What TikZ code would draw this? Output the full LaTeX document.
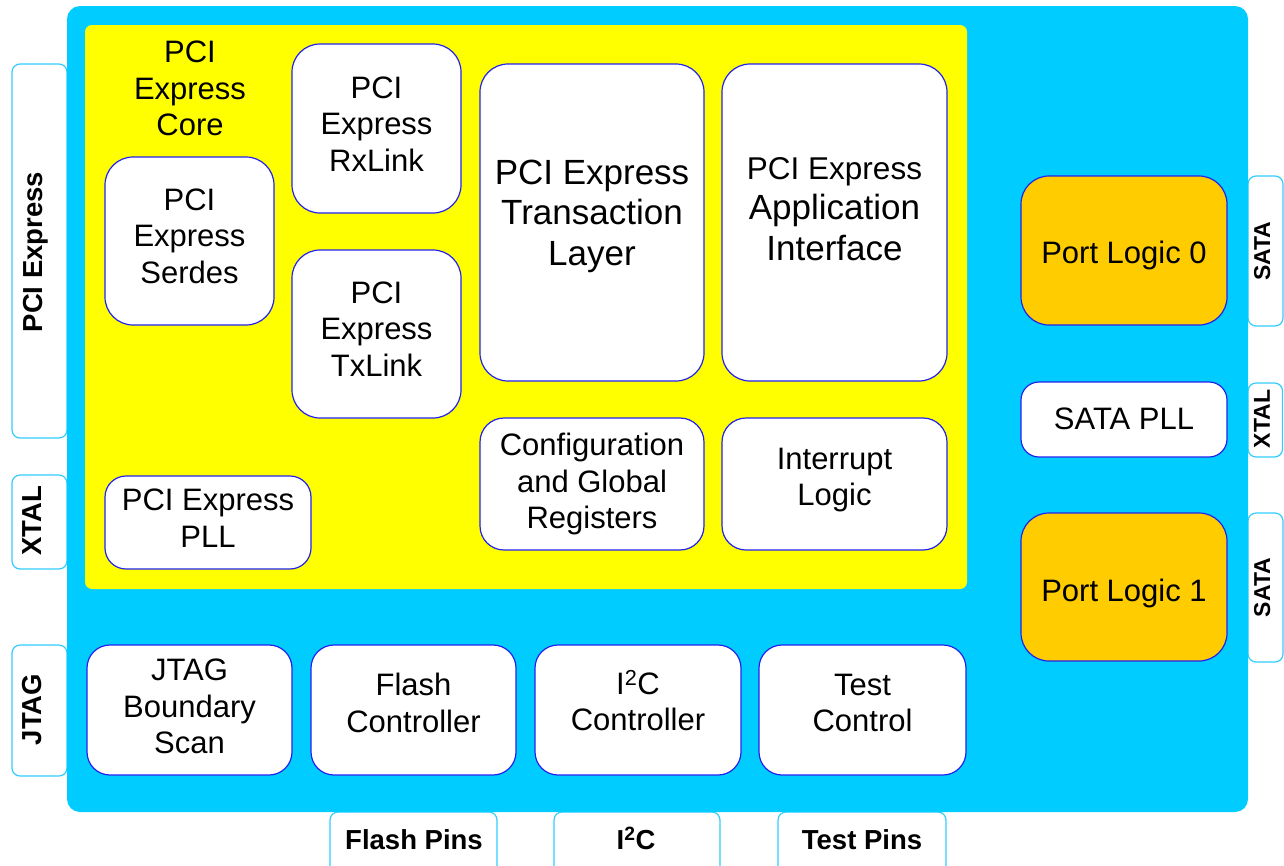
\documentclass[tikz,border=0pt]{standalone}
\usepackage{fontspec}
\setmainfont{Liberation Sans}
\definecolor{cyanbg}{HTML}{00CCFF}
\definecolor{ylw}{HTML}{FFFF00}
\definecolor{orng}{HTML}{FFCC00}
\definecolor{blkline}{HTML}{2222EE}
\definecolor{pinline}{HTML}{33CCFF}
\tikzset{
  blk/.style={draw=blkline, line width=1.2pt, fill=white, rounded corners=#1, inner sep=0pt, outer sep=0pt},
  blk/.default=28pt,
  pinbox/.style={draw=pinline, line width=1.2pt, fill=white, rounded corners=8pt},
  txt/.style={align=center, inner sep=0pt, text depth=0pt, font=\fontsize{31}{36.5}\selectfont},
  pintxt/.style={inner sep=0pt, text depth=0pt, font=\bfseries\fontsize{27.5}{32}\selectfont},
  rpintxt/.style={inner sep=0pt, text depth=0pt, font=\bfseries\fontsize{23}{27}\selectfont},
}
\begin{document}
\begin{tikzpicture}[x=1pt,y=-1pt]
\useasboundingbox (0,0) rectangle (1284,865);
% pins (beside the chip)
\path[pinbox] (12,64) rectangle (67,438);
\path[pinbox] (12,475) rectangle (67,569);
\path[pinbox] (12,645) rectangle (67,776);
\path[pinbox] (1248,176) rectangle (1283,326);
\path[pinbox] (1248,383) rectangle (1282.5,457);
\path[pinbox] (1248,513) rectangle (1283,662);
\path[pinbox] (330,812) rectangle (497,885);
\path[pinbox] (554,812) rectangle (720,885);
\path[pinbox] (778,812) rectangle (946,885);
% chip and core
\path[fill=cyanbg, rounded corners=13pt] (67,6) rectangle (1248,812);
\path[fill=ylw, rounded corners=7pt] (85,25) rectangle (967,589);
% blocks
\node[blk, minimum width=169pt, minimum height=168pt] (serdes) at (189.5,241) {};
\node[blk, minimum width=169pt, minimum height=169pt] (rx) at (376.5,128.5) {};
\node[blk, minimum width=169pt, minimum height=168pt] (tx) at (376.5,334) {};
\node[blk, minimum width=224pt, minimum height=317pt] (trans) at (592,222.5) {};
\node[blk, minimum width=225pt, minimum height=317pt] (app) at (834.5,222.5) {};
\node[blk=24pt, minimum width=224pt, minimum height=132pt] (cfg) at (592,484) {};
\node[blk=24pt, minimum width=225pt, minimum height=132pt] (intr) at (834.5,484) {};
\node[blk=21pt, minimum width=206pt, minimum height=93pt] (ppll) at (208,522.5) {};
\node[blk=23pt, minimum width=205pt, minimum height=130pt] (jtag) at (189.5,710) {};
\node[blk=23pt, minimum width=205pt, minimum height=130pt] (flash) at (413.5,710) {};
\node[blk=23pt, minimum width=206pt, minimum height=130pt] (i2c) at (638,710) {};
\node[blk=23pt, minimum width=207pt, minimum height=130pt] (test) at (862.5,710) {};
\node[blk, fill=orng, minimum width=206pt, minimum height=149pt] (pl0) at (1124,250.5) {};
\node[blk=18pt, minimum width=206pt, minimum height=75pt] (spll) at (1124,419.5) {};
\node[blk, fill=orng, minimum width=206pt, minimum height=148pt] (pl1) at (1124,587) {};
% texts
\node[txt] (coret) at (190,88.5) {PCI\\Express\\Core};
\node[txt] (serdest) at (189.5,236) {PCI\\Express\\Serdes};
\node[txt] (rxt) at (376.5,124) {PCI\\Express\\RxLink};
\node[txt] (txt1) at (376.5,329) {PCI\\Express\\TxLink};
\node[txt, font=\fontsize{35}{40.5}\selectfont] (transt) at (592,212.5) {PCI Express\\Transaction\\Layer};
\node[txt, font=\fontsize{35}{40.5}\selectfont] (appt) at (834.5,208.5) {{\fontsize{31.5}{40.5}\selectfont PCI Express}\\Application\\Interface};
\node[txt] (cfgt) at (592,481) {Configuration\\and Global\\Registers};
\node[txt] (intrt) at (834.5,477) {Interrupt\\Logic};
\node[txt] (ppllt) at (208,518) {PCI Express\\PLL};
\node[txt] (jtagt) at (189.5,706.5) {JTAG\\Boundary\\Scan};
\node[txt] (flasht) at (413.5,703) {Flash\\Controller};
\node[txt] (i2ct) at (638,700.5) {I\textsuperscript{2}C\\Controller};
\node[txt] (testt) at (862.5,703) {Test\\Control};
\node[txt] (pl0t) at (1124,252) {Port Logic 0};
\node[txt] (spllt) at (1124,419) {SATA PLL};
\node[txt] (pl1t) at (1124,590) {Port Logic 1};
% pin labels
\node[pintxt, rotate=90] (p1) at (33,252) {PCI Express};
\node[pintxt, rotate=90] (p2) at (32,521) {XTAL};
\node[pintxt, rotate=90] (p3) at (32,709.5) {JTAG};
\node[rpintxt, rotate=90] (p4) at (1262,251) {SATA};
\node[rpintxt, rotate=90] (p5) at (1262,419) {XTAL};
\node[rpintxt, rotate=90] (p6) at (1262,587.5) {SATA};
\node[pintxt] (p7) at (414,840) {Flash Pins};
\node[pintxt] (p8) at (636,838) {I\textsuperscript{2}C};
\node[pintxt] (p9) at (862,840) {Test Pins};
\end{tikzpicture}
\end{document}
